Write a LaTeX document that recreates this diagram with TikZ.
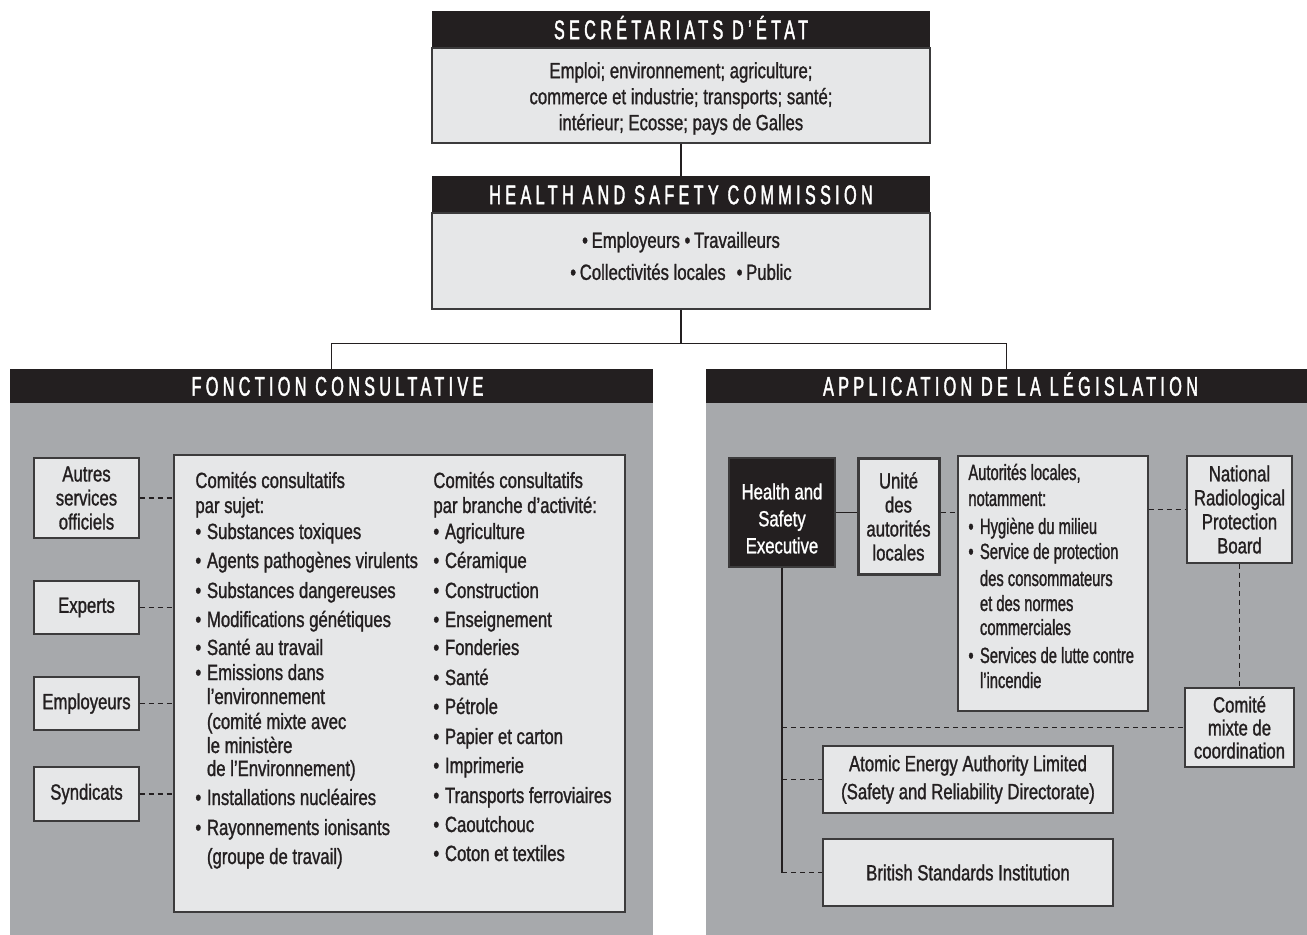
\documentclass[tikz,border=0pt]{standalone}
\usepackage{fontspec}
\setmainfont{Liberation Sans}[FakeStretch=0.76,FakeBold=1.2]
\newfontfamily\narrowfont{Liberation Sans}[FakeStretch=0.67,FakeBold=1.2]
\newfontfamily\headfont{Liberation Sans}[FakeStretch=0.6,FakeBold=1.5,LetterSpace=16]
\usepackage{xcolor}
\usetikzlibrary{fit,positioning,calc}

\definecolor{barblack}{HTML}{231F20}
\definecolor{boxgrey}{HTML}{E6E7E8}
\definecolor{panelgrey}{HTML}{A7A9AC}
\definecolor{edgegrey}{HTML}{3C3B3C}

\newcommand{\bodytext}{\fontsize{11}{12}\selectfont}
\newcommand{\headtext}{\headfont\fontsize{13.5}{15}\selectfont}
\newcommand{\bul}{\makebox[5.8pt][l]{\textbullet}}
\newcommand{\ind}{\hspace*{5.8pt}}

\begin{document}
\begin{tikzpicture}[x=0.5pt,y=-0.5pt]
        \tikzstyle{headbar}  = [fill=barblack, inner sep=0pt]
        \tikzstyle{headtxt}  = [inner sep=0pt, text=white, font=\headtext, text height=9.7pt, text depth=0pt]
        \tikzstyle{lightbox} = [fill=boxgrey, draw=edgegrey, line width=0.7pt, inner sep=0pt]
        \tikzstyle{boxtext}  = [inner sep=0pt, align=center, font=\bodytext, text=barblack]
        \tikzstyle{panel}    = [fill=panelgrey, inner sep=0pt]
        \tikzstyle{txt}      = [anchor=west, inner sep=0pt, font=\bodytext, text=barblack, text height=8pt, text depth=2pt]
        \tikzstyle{link}     = [draw=barblack, line width=0.7pt]
        \tikzstyle{dashlink} = [link, dash pattern=on 2.5pt off 2pt]

        \useasboundingbox (0,0) rectangle (1307,935);

        %% top of the chart
        \node[headbar, fit={(432,11) (930,48)}] (sechead) {};
        \node[headtxt] (sechead-t) at (sechead) {SECRÉTARIATS D’ÉTAT};
        \node[lightbox, fit={(432,48) (930,143)}] (secbox) {};
        \node[boxtext, font={\fontsize{11}{13}\selectfont}] (secbox-t) at ($(secbox)+(0,3)$)
                {Emploi; environnement; agriculture;\\commerce et industrie; transports; santé;\\intérieur; Ecosse; pays de Galles};
        \node[headbar, fit={(432,176) (930,213)}] (hschead) {};
        \node[headtxt] (hschead-t) at (hschead) {HEALTH AND SAFETY COMMISSION};
        \node[lightbox, fit={(432,213) (930,309)}] (hscbox) {};
        \node[boxtext, font={\fontsize{11}{16}\selectfont}] (hscbox-t) at (681,256)
                {\textbullet\,Employeurs \textbullet\,Travailleurs\\\textbullet\,Collectivités locales\enspace\textbullet\,Public};
        \draw[link] (secbox.south) -- (hschead.north);

        %% the two panels
        \node[headbar, fit={(10,369) (653,403)}] (conshead) {};
        \node[headtxt] (conshead-t) at ($(conshead)+(6,0)$) {FONCTION CONSULTATIVE};
        \node[panel, fit={(10,403) (653,935)}] (conspanel) {};
        \node[headbar, fit={(706,369) (1307,403)}] (apphead) {};
        \node[headtxt] (apphead-t) at ($(apphead)+(4,0)$) {APPLICATION DE LA LÉGISLATION};
        \node[panel, fit={(706,403) (1307,935)}] (apppanel) {};
        \coordinate (split) at ($(hscbox.south)+(0,34)$);
        \draw[link] (hscbox.south) -- (split);
        \draw[link] (conshead.north) |- (split) -| (apphead.north);

        %% fonction consultative
        \node[lightbox, fit={(34,458) (139,538)}] (autres) {};
        \node[boxtext] (autres-t) at (autres) {Autres\\services\\officiels};
        \node[lightbox, fit={(34,581) (139,634)}] (experts) {};
        \node[boxtext] (experts-t) at (experts) {Experts};
        \node[lightbox, fit={(34,677) (139,730)}] (employ) {};
        \node[boxtext] (employ-t) at (employ) {Employeurs};
        \node[lightbox, fit={(34,767) (139,821)}] (syndic) {};
        \node[boxtext] (syndic-t) at (syndic) {Syndicats};
        \node[lightbox, fit={(174,455) (625,912)}] (comites) {};
        \foreach \b in {autres,experts,employ,syndic}
        {
                \draw[dashlink] (\b.east) -- (\b.east -| comites.west);
        }
        \foreach \y/\t in {482/{Comités consultatifs}, 507/{par sujet:},
                533/{\bul Substances toxiques}, 562/{\bul Agents pathogènes virulents},
                592/{\bul Substances dangereuses}, 621/{\bul Modifications génétiques},
                649/{\bul Santé au travail}, 674/{\bul Emissions dans},
                698/{\ind l’environnement}, 723/{\ind (comité mixte avec},
                747/{\ind le ministère}, 770/{\ind de l’Environnement)},
                799/{\bul Installations nucléaires}, 829/{\bul Rayonnements ionisants},
                858/{\ind (groupe de travail)}}
        {
                \node[txt] (sa\y) at (195,\y) {\t};
        }
        \foreach \y/\t in {482/{Comités consultatifs}, 507/{par branche d’activité:},
                533/{\bul Agriculture}, 562/{\bul Céramique}, 592/{\bul Construction},
                621/{\bul Enseignement}, 649/{\bul Fonderies}, 679/{\bul Santé},
                708/{\bul Pétrole}, 738/{\bul Papier et carton}, 767/{\bul Imprimerie},
                797/{\bul Transports ferroviaires}, 826/{\bul Caoutchouc},
                855/{\bul Coton et textiles}}
        {
                \node[txt] (sb\y) at (433,\y) {\t};
        }

        %% application de la legislation
        \node[lightbox, fill=barblack, fit={(729,458) (835,567)}] (hse) {};
        \node[boxtext, text=white, font={\fontsize{11}{13.5}\selectfont}] (hse-t) at ($(hse)+(0,6)$) {Health and\\Safety\\Executive};
        \node[lightbox, line width=1.5pt, fit={(858,459) (939,574)}] (unite) {};
        \node[boxtext] (unite-t) at (unite) {Unité\\des\\autorités\\locales};
        \node[lightbox, fit={(958,456) (1148,711)}] (autloc) {};
        \node[lightbox, fit={(1187,456) (1292,563)}] (nrpb) {};
        \node[boxtext] (nrpb-t) at (nrpb) {National\\Radiological\\Protection\\Board};
        \node[lightbox, fit={(1185,688) (1294,767)}] (comite) {};
        \node[boxtext, font={\fontsize{11}{11.5}\selectfont}] (comite-t) at (comite) {Comité\\mixte de\\coordination};
        \node[lightbox, fit={(823,746) (1113,813)}] (aea) {};
        \node[boxtext, font={\fontsize{11}{14}\selectfont}] (aea-t) at (aea) {Atomic Energy Authority Limited\\(Safety and Reliability Directorate)};
        \node[lightbox, fit={(823,839) (1113,906)}] (bsi) {};
        \node[boxtext] (bsi-t) at (bsi) {British Standards Institution};
        \foreach \y/\t in {474/{Autorités locales,}, 500/{notamment:},
                528/{\bul Hygiène du milieu}, 553/{\bul Service de protection},
                580/{\ind des consommateurs}, 605/{\ind et des normes},
                629/{\ind commerciales}, 657/{\bul Services de lutte contre},
                682/{\ind l’incendie}}
        {
                \node[txt, font=\narrowfont\bodytext] (la\y) at (968,\y) {\t};
        }

        \coordinate (hsefoot) at (hse.south |- bsi.west);
        \draw[link] (hse.east) -- (hse.east -| unite.west);
        \draw[dashlink] (unite.east |- hse.east) -- (autloc.west |- hse.east);
        \draw[dashlink] (nrpb.west -| autloc.east) -- (nrpb.west);
        \draw[dashlink] (nrpb.south) -- (comite.north);
        \draw[link] (hse.south) -- (hsefoot);
        \draw[dashlink] (hse.south |- comite.west) -- (comite.west);
        \draw[dashlink] (hse.south |- aea.west) -- (aea.west);
        \draw[dashlink] (hsefoot) -- (bsi.west);
\end{tikzpicture}
\end{document}
